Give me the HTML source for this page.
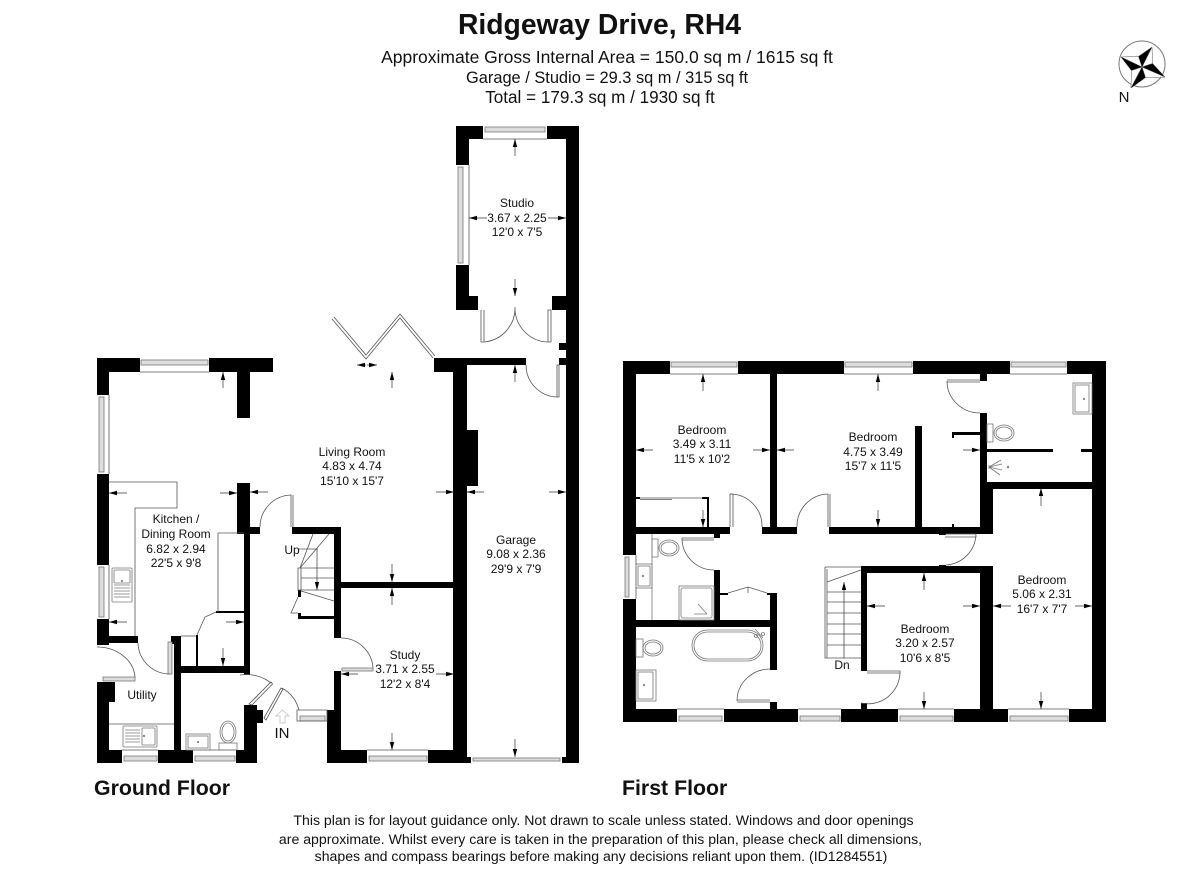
<!DOCTYPE html>
<html><head><meta charset="utf-8"><style>
html,body{margin:0;padding:0;background:#fff}
svg{display:block}
text{font-family:"Liberation Sans",sans-serif;fill:#111}
.l text,.l{font-size:12px;text-anchor:middle}
.w rect{fill:#000}
.g rect,.g path,.g ellipse,.g circle,.g line{fill:none;stroke:#777;stroke-width:.8}
.d path,.d line{fill:none;stroke:#555;stroke-width:.8}
.b rect{fill:#ddd;stroke:#777;stroke-width:.8}
.a line{stroke:#333;stroke-width:.7;marker-end:url(#m)}
</style></head><body>
<svg width="1200" height="876" viewBox="0 0 1200 876" xmlns="http://www.w3.org/2000/svg">
<defs><marker id="m" markerUnits="userSpaceOnUse" markerWidth="9" markerHeight="6" refX="8" refY="3" orient="auto"><path d="M0 .8L8 3L0 5.2z" fill="#000"/></marker></defs>
<rect width="1200" height="876" fill="#fff"/>
<text x="599.500" y="34" font-size="28.300" font-weight="bold" text-anchor="middle">Ridgeway Drive, RH4</text>
<g text-anchor="middle"><text x="607" y="63" font-size="17.500">Approximate Gross Internal Area = 150.0 sq m / 1615 sq ft</text><text x="607" y="83" font-size="16.400">Garage / Studio = 29.3 sq m / 315 sq ft</text><text x="600" y="103" font-size="17.100">Total = 179.3 sq m / 1930 sq ft</text></g>
<circle cx="1142" cy="64" r="23" fill="none" stroke="#777"/>
<g stroke="#555" stroke-width=".5">
<path d="M1142 67L1152 47L1152.600 63.500z" fill="#fff"/><path d="M1142 67L1121 57L1138.500 56.400z" fill="#fff"/><path d="M1142 67L1131 88L1131.400 70.500z" fill="#fff"/><path d="M1142 67L1165 77L1145.500 77.600z" fill="#fff"/>
<path d="M1142 67L1152 47L1138.500 56.400z" fill="#000"/><path d="M1142 67L1121 57L1131.400 70.500z" fill="#000"/><path d="M1142 67L1131 88L1145.500 77.600z" fill="#000"/><path d="M1142 67L1165 77L1152.600 63.500z" fill="#000"/>
</g>
<text x="1124" y="102" font-size="15" text-anchor="middle">N</text>

<g class="w">
<!-- ground floor -->
<rect x="97" y="358" width="43" height="14"/><rect x="209" y="358" width="64" height="14"/><rect x="97" y="358" width="12" height="37"/><rect x="97" y="474" width="12" height="91"/><rect x="97" y="619" width="12" height="26"/><rect x="109" y="636" width="29" height="7"/>
<rect x="237" y="372" width="13" height="46"/><rect x="237" y="483" width="13" height="50"/><rect x="237" y="527" width="23" height="7"/><rect x="244" y="533" width="6" height="142"/>
<rect x="292" y="527" width="49" height="7"/><rect x="334" y="527" width="7" height="111"/><rect x="341" y="582" width="113" height="6"/><rect x="334" y="671" width="7" height="92"/><rect x="327" y="710" width="14" height="53"/><rect x="341" y="750" width="26" height="13"/><rect x="428" y="750" width="39" height="13"/><rect x="454" y="757" width="17" height="6"/>
<rect x="453" y="358" width="14" height="405"/><rect x="434" y="358" width="32" height="14"/><rect x="434" y="358" width="92" height="7"/><rect x="467" y="430" width="11" height="56"/>
<rect x="566" y="126" width="13" height="637"/><rect x="559" y="343" width="7" height="7"/><rect x="559" y="358" width="7" height="7"/><rect x="562" y="757" width="17" height="6"/>
<rect x="456" y="126" width="27" height="13"/><rect x="547" y="126" width="32" height="13"/><rect x="456" y="126" width="13" height="39"/><rect x="456" y="265" width="13" height="45"/><rect x="456" y="296" width="22" height="14"/><rect x="552" y="296" width="27" height="14"/>
<rect x="216" y="611" width="28" height="2"/><rect x="196" y="635" width="2" height="31"/><rect x="171" y="636" width="10" height="8"/><rect x="174" y="636" width="7" height="114"/><rect x="181" y="666" width="69" height="7"/>
<rect x="97" y="682" width="18" height="20"/><rect x="97" y="682" width="12" height="81"/><rect x="97" y="750" width="25" height="13"/><rect x="158" y="750" width="35" height="13"/><rect x="236" y="750" width="21" height="13"/><rect x="244" y="705" width="13" height="58"/><rect x="244" y="710" width="19" height="13"/>
<rect x="298" y="590" width="3" height="7"/><rect x="298" y="616" width="36" height="3"/><rect x="298" y="613" width="3" height="4"/>
<!-- first floor -->
<rect x="623" y="361" width="47" height="13"/><rect x="738" y="361" width="106" height="13"/><rect x="913" y="361" width="97" height="13"/><rect x="1067" y="361" width="39" height="13"/><rect x="1092" y="361" width="14" height="361"/>
<rect x="623" y="361" width="13" height="194"/><rect x="623" y="599" width="13" height="123"/>
<rect x="623" y="709" width="54" height="13"/><rect x="724" y="709" width="74" height="13"/><rect x="841" y="709" width="57" height="13"/><rect x="954" y="709" width="54" height="13"/><rect x="1069" y="709" width="37" height="13"/>
<rect x="770" y="374" width="7" height="153"/><rect x="636" y="527" width="94" height="7"/><rect x="714" y="534" width="6" height="4"/><rect x="762" y="527" width="35" height="7"/><rect x="829" y="527" width="164" height="7"/>
<rect x="707" y="497" width="2" height="30"/><rect x="702" y="497" width="7" height="2"/><rect x="636" y="497" width="4" height="2"/>
<rect x="636" y="620" width="141" height="7"/><rect x="770" y="593" width="7" height="77"/><rect x="770" y="702" width="7" height="7"/><rect x="714" y="570" width="6" height="50"/><rect x="720" y="593" width="8" height="2"/><rect x="767" y="593" width="10" height="2"/>
<rect x="980" y="374" width="7" height="7"/><rect x="980" y="413" width="7" height="69"/><rect x="980" y="482" width="13" height="52"/><rect x="987" y="482" width="105" height="7"/><rect x="915" y="426" width="7" height="101"/><rect x="952" y="432" width="28" height="3"/><rect x="952" y="432" width="2" height="6"/><rect x="987" y="449" width="66" height="3"/><rect x="1081" y="449" width="11" height="3"/><rect x="952" y="524" width="2" height="3"/>
<rect x="861" y="566" width="132" height="7"/><rect x="861" y="566" width="6" height="105"/><rect x="861" y="703" width="6" height="6"/><rect x="980" y="566" width="13" height="156"/><rect x="939" y="565" width="7" height="2"/><rect x="939" y="533" width="7" height="2"/>
</g>

<!-- windows -->
<g class="b">
<rect x="141" y="360" width="67" height="5"/><rect x="485" y="127" width="60" height="5"/><rect x="99" y="397" width="5" height="75"/><rect x="99" y="567" width="5" height="50"/><rect x="458" y="167" width="5" height="96"/>
<rect x="124" y="756" width="33" height="5"/><rect x="195" y="756" width="40" height="5"/><rect x="369" y="756" width="58" height="5"/><rect x="300" y="716" width="25" height="5"/><rect x="473" y="758" width="87" height="3"/>
<rect x="671" y="362" width="66" height="5"/><rect x="845" y="362" width="67" height="5"/><rect x="1011" y="362" width="55" height="5"/><rect x="625" y="557" width="4" height="40"/>
<rect x="679" y="716" width="43" height="5"/><rect x="800" y="716" width="40" height="5"/><rect x="900" y="716" width="53" height="5"/><rect x="1010" y="716" width="58" height="5"/>
<rect x="342" y="668" width="31" height="3"/><rect x="168" y="642" width="4" height="32"/><rect x="103" y="677" width="32" height="4"/>
</g>
<g class="d">
<path d="M140 372H209M483 139H547M109 395V474M109 565V619M469 165V265M122 750H158M193 750H236M367 750H428M297 710H327V721H297zM670 374H738M844 374H913M1010 374H1067M636 555V599M677 709H724M798 709H841M898 709H954M1008 709H1069"/>
<!-- doors -->
<path d="M260 527A32 32 0 0 1 291 495V527M293 495V527"/>
<path d="M341 638A32 32 0 0 1 373 668"/>
<path d="M138 643A32 32 0 0 0 170 674"/>
<path d="M97 647A38 32 0 0 1 135 677"/>
<path d="M240 675A40 40 0 0 1 271 683"/><path d="M249 704L271 682L272.500 684L252 705z"/>
<path d="M264 718L281 688L283 689L266 720zM282 688A36 36 0 0 1 299 710"/>
<path d="M216 612L205 617L197 635"/>
<path d="M481 310V342H484V310M484 342A34 34 0 0 0 515 307A34 34 0 0 0 548 342M548 342H551V310H548V342"/>
<path d="M526 365A32 32 0 0 0 557 397H559V365H557V397"/>
<path d="M332 319L366 359L400 318L433 358M334 317L366 355L400 314L435 356" stroke="#777"/>
<path d="M730 494A32 32 0 0 1 762 527M730 527V494H733V527"/>
<path d="M797 527A32 32 0 0 1 828 494V527M830 494V527"/>
<path d="M947 381A33 32 0 0 0 980 413M947 380H980M947 382H980"/>
<path d="M945 534H976V537H945M976 534A32 32 0 0 1 946 565"/>
<path d="M867 671H900V673H867M900 673A32 32 0 0 1 861 703"/>
<path d="M682 538H714M682 540H714M682 538A32 32 0 0 0 714 570"/>
<path d="M737 700H770M737 702H770M737 701A33 32 0 0 1 770 669"/>
<path d="M728 593L748 587L767 593M748 587V593"/>
<!-- kitchen fittings -->
<path d="M109 482H177V508H135V636M244 533H218V612M109 724H174"/>
<path d="M181 636H196"/>
<!-- stairs -->
<path d="M298 568H301V590H298zM299 549H318M301 568H334M301 578H334M301 590H334M300 568L313 534M300 568L329 534M301 591L334 601M298 597L291 613H298"/>
<path d="M825 567H861M825 567V658H861M827 569V658M827 582L861 570M827 592H861M827 602H861M827 613H861M827 624H861M827 634H861M827 645H861"/>
<line x1="640" y1="498" x2="703" y2="498"/><line x1="640" y1="499.500" x2="672" y2="499.500"/>
</g>
<g class="g">
<rect x="112" y="568" width="20" height="34" rx="1"/><rect x="114" y="570" width="16" height="13" rx="1"/><circle cx="122" cy="581" r=".7"/>
<path d="M114 585H130M114 588H130M114 591H130M114 594H130M114 597H130"/>
<rect x="123" y="726" width="34" height="21" rx="1"/><rect x="142" y="728" width="13" height="17" rx="1"/><circle cx="144" cy="736" r=".7"/><path d="M125 730H140M125 733H140M125 736H140M125 739H140M125 742H140"/>
<rect x="186" y="734" width="24" height="16"/><rect x="188" y="736" width="20" height="12"/><circle cx="198" cy="742" r=".7"/>
<ellipse cx="228" cy="732" rx="8" ry="11"/><ellipse cx="228" cy="732" rx="6" ry="9"/><rect x="219" y="743" width="18" height="7"/>
<rect x="652" y="539" width="6" height="18"/><ellipse cx="669" cy="548" rx="10" ry="8"/><ellipse cx="669" cy="548" rx="8" ry="6"/>
<path d="M652 534V620"/><rect x="636" y="564" width="16" height="24"/><rect x="638" y="566" width="12" height="20"/><circle cx="643" cy="576" r=".7"/>
<rect x="679" y="586" width="35" height="34"/><rect x="681" y="588" width="31" height="30" rx="2"/><path d="M698 604L707 614M694 614H707"/>
<rect x="692" y="630" width="71" height="31" rx="15.500"/><rect x="694" y="632" width="67" height="27" rx="13.500"/><path d="M755 629L763 638"/><circle cx="756" cy="636" r="1.500"/><circle cx="763" cy="634" r="1.500"/>
<rect x="636" y="639" width="7" height="18"/><ellipse cx="653" cy="648" rx="10" ry="8"/><ellipse cx="653" cy="648" rx="8" ry="6"/>
<rect x="636" y="670" width="20" height="31"/><rect x="638" y="672" width="15" height="27"/><circle cx="644" cy="685" r=".7"/>
<rect x="987" y="424" width="6" height="18"/><ellipse cx="1004" cy="433" rx="10" ry="8"/><ellipse cx="1004" cy="433" rx="8" ry="6"/>
<rect x="1073" y="383" width="19" height="31"/><rect x="1075" y="385" width="14" height="27"/><circle cx="1084" cy="399" r=".7"/>
<path d="M989 467L1001 460M989 467L1002 464M989 467L1002 470M989 467L1000 475M989 465V469"/><circle cx="1008" cy="467" r=".8"/>
</g>
<path d="M280 723V716H276L282.500 710L289 716H285V723z" fill="none" stroke="#ccc" stroke-width="1"/>

<g class="a">
<line x1="223" y1="388" x2="223" y2="372"/><line x1="127" y1="493" x2="109" y2="493"/><line x1="220" y1="493" x2="237" y2="493"/><line x1="127" y1="622" x2="109" y2="622"/><line x1="226" y1="622" x2="244" y2="622"/><line x1="223" y1="648" x2="223" y2="666"/>
<line x1="268" y1="492" x2="250" y2="492"/><line x1="436" y1="492" x2="454" y2="492"/><line x1="392" y1="564" x2="392" y2="582"/><line x1="392" y1="388" x2="392" y2="372"/>
<line x1="366" y1="365" x2="357" y2="365"/><line x1="367" y1="365" x2="377" y2="365"/><line x1="317" y1="549" x2="317" y2="590"/>
<line x1="392" y1="605" x2="392" y2="588"/><line x1="392" y1="733" x2="392" y2="750"/><line x1="358" y1="674" x2="341" y2="674"/><line x1="436" y1="674" x2="454" y2="674"/>
<line x1="515" y1="382" x2="515" y2="365"/><line x1="484" y1="492" x2="467" y2="492"/><line x1="549" y1="492" x2="566" y2="492"/><line x1="515" y1="739" x2="515" y2="757"/>
<line x1="515" y1="156" x2="515" y2="139"/><line x1="515" y1="279" x2="515" y2="296"/><line x1="487" y1="218" x2="469" y2="218"/><line x1="548" y1="218" x2="566" y2="218"/>
<line x1="703" y1="391" x2="703" y2="374"/><line x1="653" y1="450" x2="636" y2="450"/><line x1="753" y1="450" x2="770" y2="450"/><line x1="703" y1="510" x2="703" y2="527"/>
<line x1="794" y1="450" x2="777" y2="450"/><line x1="878" y1="391" x2="878" y2="374"/><line x1="963" y1="450" x2="980" y2="450"/><line x1="878" y1="510" x2="878" y2="527"/>
<line x1="1041" y1="506" x2="1041" y2="488"/><line x1="924" y1="590" x2="924" y2="573"/><line x1="885" y1="606" x2="867" y2="606"/><line x1="963" y1="606" x2="980" y2="606"/><line x1="924" y1="692" x2="924" y2="709"/>
<line x1="1011" y1="606" x2="993" y2="606"/><line x1="1075" y1="606" x2="1092" y2="606"/><line x1="1041" y1="692" x2="1041" y2="709"/><line x1="844" y1="658" x2="844" y2="582"/>
</g>

<g class="l">
<text x="176" y="523">Kitchen /</text><text x="176" y="538">Dining Room</text><text x="176" y="553">6.82 x 2.94</text><text x="176" y="567">22'5 x 9'8</text>
<text x="352" y="456">Living Room</text><text x="352" y="470">4.83 x 4.74</text><text x="352" y="485">15'10 x 15'7</text>
<text x="516" y="544">Garage</text><text x="516" y="558">9.08 x 2.36</text><text x="516" y="573">29'9 x 7'9</text>
<text x="405" y="659">Study</text><text x="405" y="673">3.71 x 2.55</text><text x="405" y="688">12'2 x 8'4</text>
<text x="517" y="207">Studio</text><text x="517" y="222">3.67 x 2.25</text><text x="517" y="236">12'0 x 7'5</text>
<text x="292" y="554">Up</text><text x="142" y="699">Utility</text><text x="842" y="669">Dn</text>
<text x="702" y="434">Bedroom</text><text x="702" y="448">3.49 x 3.11</text><text x="702" y="463">11'5 x 10'2</text>
<text x="873" y="441">Bedroom</text><text x="873" y="456">4.75 x 3.49</text><text x="873" y="470">15'7 x 11'5</text>
<text x="925" y="633">Bedroom</text><text x="925" y="647">3.20 x 2.57</text><text x="925" y="662">10'6 x 8'5</text>
<text x="1042" y="584">Bedroom</text><text x="1042" y="598">5.06 x 2.31</text><text x="1042" y="613">16'7 x 7'7</text>
</g>
<text x="282" y="738" font-size="15" text-anchor="middle">IN</text>
<text x="94" y="795" font-size="21.300" font-weight="bold">Ground Floor</text>
<text x="622" y="795" font-size="21.300" font-weight="bold">First Floor</text>
<g font-size="14.100" text-anchor="middle"><text x="603.500" y="825">This plan is for layout guidance only. Not drawn to scale unless stated. Windows and door openings</text><text x="600.500" y="844">are approximate. Whilst every care is taken in the preparation of this plan, please check all dimensions,</text><text x="601" y="861">shapes and compass bearings before making any decisions reliant upon them. (ID1284551)</text></g>
</svg>
</body></html>
